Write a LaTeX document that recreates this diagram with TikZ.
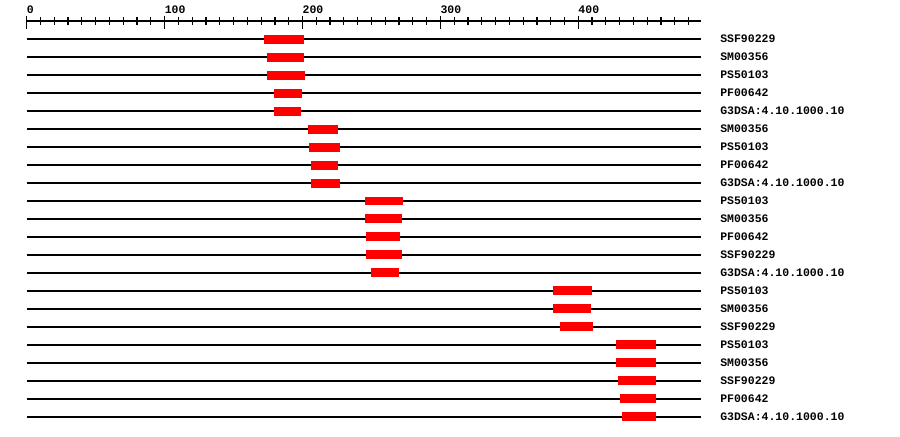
\documentclass[tikz,border=0pt]{standalone}
\usepackage{fontspec}
\setmonofont{Liberation Mono}
\usepackage{tikz}
\definecolor{hitred}{HTML}{FF0000}
\definecolor{ink}{HTML}{000000}
\tikzset{
  track/.style={draw=ink, line width=1.2pt},
  hit/.style={fill=hitred},
  lab/.style={font=\fontsize{11.5}{12}\selectfont\ttfamily\bfseries, anchor=mid west, inner sep=0pt, yshift=-1.5pt},
  axlab/.style={lab, anchor=base west, yshift=0pt},
}
% one row: row, start, end, label
\newcommand{\domrow}[4]{%
  \draw[track] (0,#1) -- (489,#1);
  \fill[hit] (#2,#1-0.25) rectangle (#3,#1+0.25);
  \node[lab] (r#1) at (502.8,#1) {#4};
}
\begin{document}
\begin{tikzpicture}[x=1.379pt, y=-18pt]
    \useasboundingbox (-19.36,-1.1667) rectangle (633.3,23.056);
    % scale
    \draw[track] (0,0) -- (489,0);
    \foreach \t in {10,20,...,480} \draw[track] (\t,-0.222) -- (\t,0.222);
    \foreach \t in {0,100,...,400} {
      \draw[track] (\t,-0.278) -- (\t,0.444);
      \node[axlab] (ax\t) at (\t,-0.5) {\t};
    }
    % first group
    \domrow{1}{172}{201}{SSF90229}
    \domrow{2}{174}{201}{SM00356}
    \domrow{3}{174}{202}{PS50103}
    \domrow{4}{179}{200}{PF00642}
    \domrow{5}{179}{199}{G3DSA:4.10.1000.10}
    % second group
    \domrow{6}{204}{226}{SM00356}
    \domrow{7}{205}{227}{PS50103}
    \domrow{8}{206}{226}{PF00642}
    \domrow{9}{206}{227}{G3DSA:4.10.1000.10}
    % third group
    \domrow{10}{245}{273}{PS50103}
    \domrow{11}{245}{272}{SM00356}
    \domrow{12}{246}{271}{PF00642}
    \domrow{13}{246}{272}{SSF90229}
    \domrow{14}{250}{270}{G3DSA:4.10.1000.10}
    % fourth group
    \domrow{15}{382}{410}{PS50103}
    \domrow{16}{382}{409}{SM00356}
    \domrow{17}{387}{411}{SSF90229}
    % fifth group
    \domrow{18}{427}{456}{PS50103}
    \domrow{19}{427}{456}{SM00356}
    \domrow{20}{429}{456}{SSF90229}
    \domrow{21}{430}{456}{PF00642}
    \domrow{22}{432}{456}{G3DSA:4.10.1000.10}
\end{tikzpicture}
\end{document}
